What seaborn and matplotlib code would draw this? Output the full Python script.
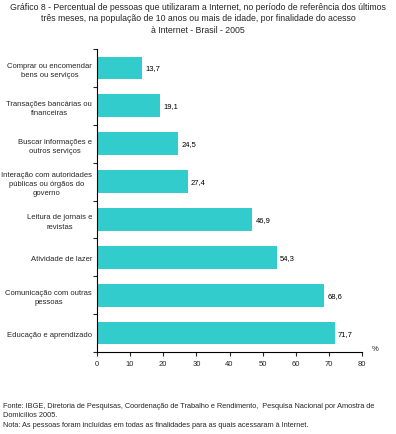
import matplotlib
matplotlib.use("Agg")
import matplotlib.pyplot as plt
import seaborn as sns
import pandas as pd

categories = [
    "Comprar ou encomendar\nbens ou serviços",
    "Transações bancárias ou\nfinanceiras",
    "Buscar informações e\noutros serviços",
    "Interação com autoridades\npúblicas ou órgãos do\ngoverno",
    "Leitura de jornais e\nrevistas",
    "Atividade de lazer",
    "Comunicação com outras\npessoas",
    "Educação e aprendizado",
]
values = [13.7, 19.1, 24.5, 27.4, 46.9, 54.3, 68.6, 71.7]
xticks = [0, 10, 20, 30, 40, 50, 60, 70, 80]

title = ("Gráfico 8 - Percentual de pessoas que utilizaram a Internet, no período de referência dos últimos\n"
         "três meses, na população de 10 anos ou mais de idade, por finalidade do acesso\n"
         "à Internet - Brasil - 2005")
footer = ("Fonte: IBGE, Diretoria de Pesquisas, Coordenação de Trabalho e Rendimento,  Pesquisa Nacional por Amostra de\n"
          "Domicílios 2005.\n"
          "Nota: As pessoas foram incluídas em todas as finalidades para as quais acessaram à Internet.")

sns.set_style("white")
plt.rcParams['font.family'] = ['Liberation Sans', 'DejaVu Sans']

df = pd.DataFrame({"cat": categories, "val": values})

fig = plt.figure(figsize=(3.96, 4.35), dpi=100)
ax = fig.add_axes([97/396, 1 - 353/435, (362 - 97)/396, (353 - 50)/435])

sns.barplot(data=df, x="val", y="cat", orient="h", color="#33CCCC",
            saturation=1, width=0.6, ax=ax, edgecolor="none")

for i, v in enumerate(values):
    ax.text(v + 1.0, i, f"{v:.1f}".replace(".", ","), va="center", ha="left",
            fontsize=5.5, color="black")

ax.set_xlim(0, 80)
ax.set_ylim(len(categories) - 0.5, -0.5)
ax.set_xticks(xticks)
ax.set_xticklabels([str(t) for t in xticks], fontsize=5.5)
ax.set_yticks(range(len(categories)))
ax.set_yticklabels(categories, fontsize=5.5, ha="right", multialignment="center",
                   linespacing=1.45)
ax.tick_params(axis="y", length=0, pad=3.5)
ax.tick_params(axis="x", length=3, width=0.8, direction="out", pad=3, bottom=True)
# minor ticks on y at category boundaries
ax.set_yticks([i - 0.5 for i in range(len(categories) + 1)], minor=True)
ax.tick_params(axis="y", which="minor", length=3, width=0.8, direction="out", left=True)
ax.set_xlabel("")
ax.set_ylabel("")
for s in ["top", "right"]:
    ax.spines[s].set_visible(False)
for s in ["left", "bottom"]:
    ax.spines[s].set_color("black")
    ax.spines[s].set_linewidth(0.8)

ax.text(84, len(categories) - 0.5, "%", ha="center", va="bottom", fontsize=5.5)

fig.text(0.5, 1 - 3/435, title, ha="center", va="top", fontsize=6.3, linespacing=1.35)
fig.text(3/396, 1 - 403/435, footer, ha="left", va="top", fontsize=5.3, linespacing=1.5)

fig.savefig("out.png", dpi=100)
